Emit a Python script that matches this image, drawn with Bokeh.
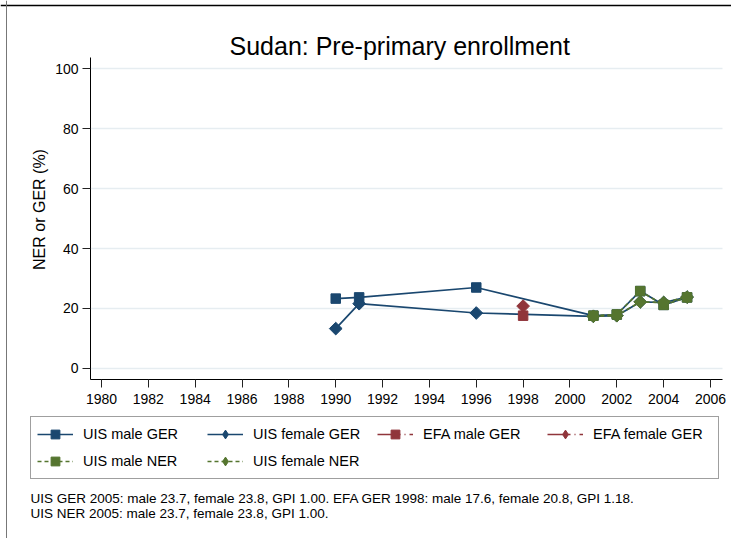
import math
from bokeh.plotting import figure
from bokeh.models import (Legend, LegendItem, Label, FixedTicker, Range1d,
                          ColumnDataSource, Grid, Span)
from bokeh.embed import file_html
from bokeh.resources import INLINE

# ---- data ----
uis_years = [1990, 1991, 1996, 2001, 2002, 2003, 2004, 2005]
uis_male_ger = [23.3, 23.7, 27.0, 17.6, 18.0, 25.8, 21.2, 23.7]
uis_female_ger = [13.3, 21.6, 18.5, 17.4, 17.6, 22.2, 22.0, 23.8]
efa_years = [1998]
efa_male_ger = [17.6]
efa_female_ger = [20.8]
ner_years = [2001, 2002, 2003, 2004, 2005]
uis_male_ner = [17.6, 18.0, 25.8, 21.2, 23.7]
uis_female_ner = [17.4, 17.6, 22.2, 22.0, 23.8]
x_ticks = list(range(1980, 2007, 2))
y_ticks = [0, 20, 40, 60, 80, 100]
title_text = "Sudan: Pre-primary enrollment"
y_title = "NER or GER (%)"
note_lines = [
    "UIS GER 2005: male 23.7, female 23.8, GPI 1.00. EFA GER 1998: male 17.6, female 20.8, GPI 1.18.",
    "UIS NER 2005: male 23.7, female 23.8, GPI 1.00.",
]

# axis extents of the plot region (data units)
X_LO, X_HI = 1979.530, 2006.512
Y_LO, Y_HI = -3.667, 103.667

NAVY = "#1a476f"
MAROON = "#90353b"
GREEN = "#55752f"
FONT = "Liberation Sans"
W, H = 731, 538

# the frame fills the whole canvas; axes are pinned at the plot-region edges
p = figure(width=W, height=H, output_backend="svg", toolbar_location=None,
           x_range=Range1d(1975.688, 2006.8966), y_range=Range1d(-56.667, 122.667),
           min_border=0)
p.outline_line_color = None
p.background_fill_color = "white"
p.border_fill_color = "white"

p.xaxis.ticker = FixedTicker(ticks=x_ticks)
p.yaxis.ticker = FixedTicker(ticks=y_ticks)
p.xaxis.fixed_location = Y_LO
p.yaxis.fixed_location = X_LO
p.xaxis.bounds = (X_LO, X_HI)
p.yaxis.bounds = (Y_LO, Y_HI)
for ax in (p.xaxis[0], p.yaxis[0]):
    ax.axis_line_color = "black"
    ax.axis_line_width = 1
    ax.major_tick_line_color = "#222222"
    ax.major_tick_out = 8
    ax.major_tick_in = 0
    ax.minor_tick_line_color = None
    ax.major_label_text_font = FONT
    ax.major_label_text_font_size = "14px"
    ax.major_label_text_color = "black"
p.yaxis.major_label_standoff = 4
p.xaxis.major_label_standoff = 6
p.yaxis.major_label_orientation = "horizontal"
p.xgrid.grid_line_color = None
if "cross_bounds" in Grid.properties():
    p.ygrid.cross_bounds = (X_LO, X_HI)
    p.ygrid.grid_line_color = "#e6edf1"
    p.ygrid.grid_line_width = 1.5
else:
    p.ygrid.grid_line_color = None
    p.segment(x0=[X_LO] * len(y_ticks), x1=[X_HI] * len(y_ticks), y0=y_ticks,
              y1=y_ticks, line_color="#e6edf1", line_width=1.5)

# outer graph border (top and left edges visible in the reference)
p.add_layout(Span(location=H - 5, location_units="screen", dimension="width",
                  line_color="black", line_width=1.5))
p.add_layout(Span(location=6, location_units="screen", dimension="height",
                  line_color="#777777", line_width=1))

NAN = float("nan")

def series(xs, ys, color, marker, dash):
    src = ColumnDataSource(dict(x=xs, y=ys))
    lr = p.line("x", "y", source=src, line_color=color, line_width=1.7, line_dash=dash)
    if marker == "diamond":
        p.scatter("x", "y", source=src, marker="square", size=9, angle=math.pi / 4,
                  fill_color=color, line_color=color)
        # legend-only diamond symbol (a non-drawable NaN point)
        sr = p.scatter(x=[NAN], y=[NAN], marker="diamond", size=12,
                       fill_color=color, line_color=color)
    else:
        sr = p.scatter("x", "y", source=src, marker="square", size=9.5,
                       fill_color=color, line_color=color)
    return [lr, sr]

r1 = series(uis_years, uis_male_ger, NAVY, "square", "solid")
r2 = series(uis_years, uis_female_ger, NAVY, "diamond", "solid")
r3 = series(efa_years, efa_male_ger, MAROON, "square", "16 4 3 4 1 4")
r4 = series(efa_years, efa_female_ger, MAROON, "diamond", "16 4 3 4 1 4")
r5 = series(ner_years, uis_male_ner, GREEN, "square", "4 3")
r6 = series(ner_years, uis_female_ner, GREEN, "diamond", "4 3")

legend = Legend(items=[
    LegendItem(label="UIS male GER", renderers=r1),
    LegendItem(label="UIS female GER", renderers=r2),
    LegendItem(label="EFA male GER", renderers=r3),
    LegendItem(label="EFA female GER", renderers=r4),
    LegendItem(label="UIS male NER", renderers=r5),
    LegendItem(label="UIS female NER", renderers=r6),
], location=(30, 59), orientation="horizontal", ncols=4,
    glyph_width=36, glyph_height=22, label_height=20, label_width=119,
    label_standoff=10, spacing=5, padding=6,
    label_text_font=FONT, label_text_font_size="14.5px", label_text_color="black",
    border_line_color="#404040", border_line_width=1,
    background_fill_color="white", background_fill_alpha=1.0)
p.add_layout(legend, "center")

# title, axis title, notes (screen units from the canvas bottom-left)
p.add_layout(Label(x=229, y=H - 45, x_units="screen", y_units="screen", text=title_text,
                   text_font=FONT, text_font_size="25px", text_align="left",
                   text_baseline="alphabetic", text_color="black"))
p.add_layout(Label(x=39, y=H - 209, x_units="screen", y_units="screen", text=y_title,
                   angle=math.pi / 2, text_font=FONT, text_font_size="16px",
                   text_align="center", text_baseline="middle", text_color="black"))
for i, line in enumerate(note_lines):
    p.add_layout(Label(x=30, y=40 - 15 * i, x_units="screen", y_units="screen",
                       text=line, text_font=FONT, text_font_size="13.5px",
                       text_align="left", text_baseline="alphabetic",
                       text_color="black"))

open("out.html", "w").write(file_html(p, INLINE))
